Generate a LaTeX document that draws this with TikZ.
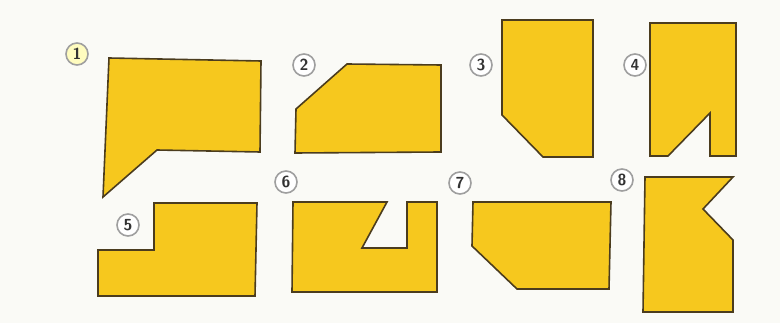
\documentclass[tikz,border=0pt]{standalone}
\usepackage{tikz}
\definecolor{pieceyellow}{RGB}{246,200,30}
\definecolor{edgebrown}{RGB}{75,60,30}
\definecolor{paper}{RGB}{250,250,246}
\begin{document}
\begin{tikzpicture}[x=1pt,y=-1pt]
\tikzset{piece/.style={fill=pieceyellow,draw=edgebrown,line width=1.6pt,line join=miter}}
\tikzset{tag/.style={circle,draw=gray!75,line width=1.6pt,fill=white,minimum size=22pt,inner sep=0pt,
  font=\fontsize{16}{16}\selectfont\sffamily\bfseries,text=black!80}}
\useasboundingbox[fill=paper] (0,0) rectangle (780,323);
% top row
\draw[piece] (109,58) -- (261,61) -- (260,152) -- (157,150) -- (103,197) -- cycle;
\draw[piece] (347,64) -- (441,65) -- (441,152) -- (295,153) -- (296,109) -- cycle;
\draw[piece] (502,20) -- (593,20) -- (593,157) -- (543,157) -- (502,115) -- cycle;
\draw[piece] (650,23) -- (736,23) -- (736,156) -- (710,156) -- (710,113) -- (668,156) -- (650,156) -- cycle;
% bottom row
\draw[piece] (154,203) -- (257,203) -- (255,296) -- (98,296) -- (98,250) -- (154,250) -- cycle;
\draw[piece] (293,202) -- (387,202) -- (362,248) -- (407,248) -- (407,202) -- (437,202) -- (437,292) -- (292,292) -- cycle;
\draw[piece] (473,202) -- (611,202) -- (609,289) -- (517,289) -- (472,246) -- cycle;
\draw[piece] (645,177) -- (733,177) -- (703,209) -- (733,240) -- (733,312) -- (643,312) -- cycle;
% numbers
\node[tag,fill=yellow!25] (n1) at (77,54) {1};
\node[tag] (n2) at (304,65) {2};
\node[tag] (n3) at (481,65) {3};
\node[tag] (n4) at (635,65) {4};
\node[tag] (n5) at (128,225) {5};
\node[tag] (n6) at (286,182) {6};
\node[tag] (n7) at (460,183) {7};
\node[tag] (n8) at (622,180) {8};
\end{tikzpicture}
\end{document}
